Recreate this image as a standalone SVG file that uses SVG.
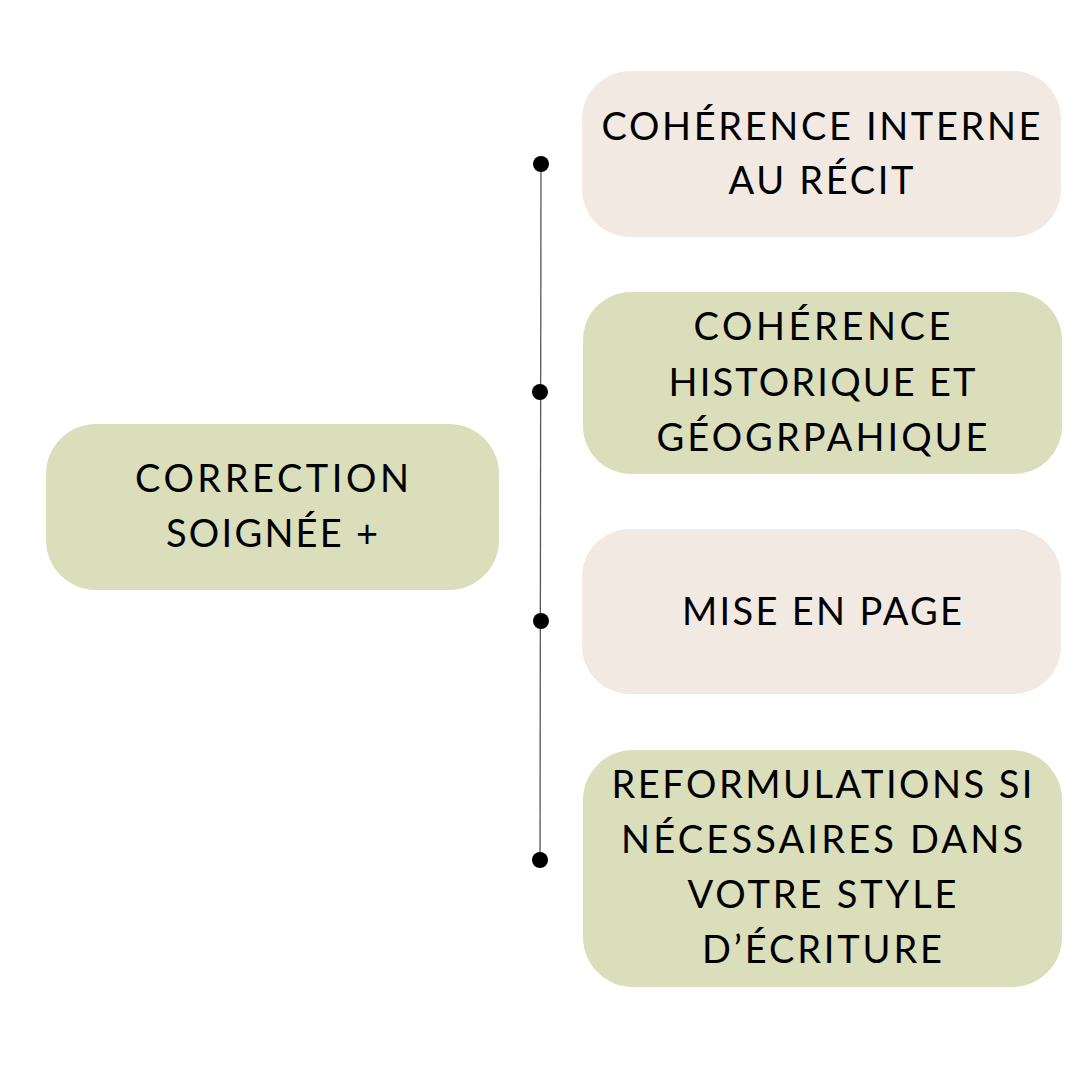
<svg xmlns="http://www.w3.org/2000/svg" width="1080" height="1080" viewBox="0 0 1080 1080">
<style>
.beige{fill:#f1e9e2}
.green{fill:#dadebb}
.t{font-family:Lato,"Open Sans","DejaVu Sans",sans-serif;font-size:38px;fill:#000;text-anchor:middle}
.ln{stroke:#555;stroke-width:1.3;fill:none}
.dot{fill:#000}
</style>
<rect width="1080" height="1080" fill="#fff"/>
<g id="connectors">
<line class="ln" x1="541" y1="164" x2="540" y2="860"/>
<circle class="dot" cx="541" cy="164" r="8"/>
<circle class="dot" cx="540" cy="392" r="8"/>
<circle class="dot" cx="541" cy="621" r="8"/>
<circle class="dot" cx="540" cy="860" r="8"/>
</g>
<g id="main">
<rect class="green" x="46" y="424" width="453" height="166" rx="50"/>
<text class="t" x="272" y="492" textLength="274" lengthAdjust="spacing">CORRECTION</text>
<text class="t" x="272" y="547" textLength="212" lengthAdjust="spacing">SOIGNÉE +</text>
</g>
<g id="n1">
<rect class="beige" x="582" y="71" width="479" height="166" rx="48"/>
<text class="t" x="821" y="140" textLength="439" lengthAdjust="spacing">COHÉRENCE INTERNE</text>
<text class="t" x="821" y="194" textLength="185" lengthAdjust="spacing">AU RÉCIT</text>
</g>
<g id="n2">
<rect class="green" x="583" y="292" width="479" height="182" rx="48"/>
<text class="t" x="822" y="340" textLength="257" lengthAdjust="spacing">COHÉRENCE</text>
<text class="t" x="822" y="396" textLength="307" lengthAdjust="spacing">HISTORIQUE ET</text>
<text class="t" x="822" y="451" textLength="331" lengthAdjust="spacing">GÉOGRPAHIQUE</text>
</g>
<g id="n3">
<rect class="beige" x="582" y="529" width="479" height="165" rx="48"/>
<text class="t" x="822" y="625" textLength="280" lengthAdjust="spacing">MISE EN PAGE</text>
</g>
<g id="n4">
<rect class="green" x="583" y="750" width="479" height="237" rx="50"/>
<text class="t" x="822" y="798" textLength="421" lengthAdjust="spacing">REFORMULATIONS SI</text>
<text class="t" x="822" y="853" textLength="402" lengthAdjust="spacing">NÉCESSAIRES DANS</text>
<text class="t" x="822" y="908" textLength="269" lengthAdjust="spacing">VOTRE STYLE</text>
<text class="t" x="822" y="963" textLength="240" lengthAdjust="spacing">D’ÉCRITURE</text>
</g>
</svg>
